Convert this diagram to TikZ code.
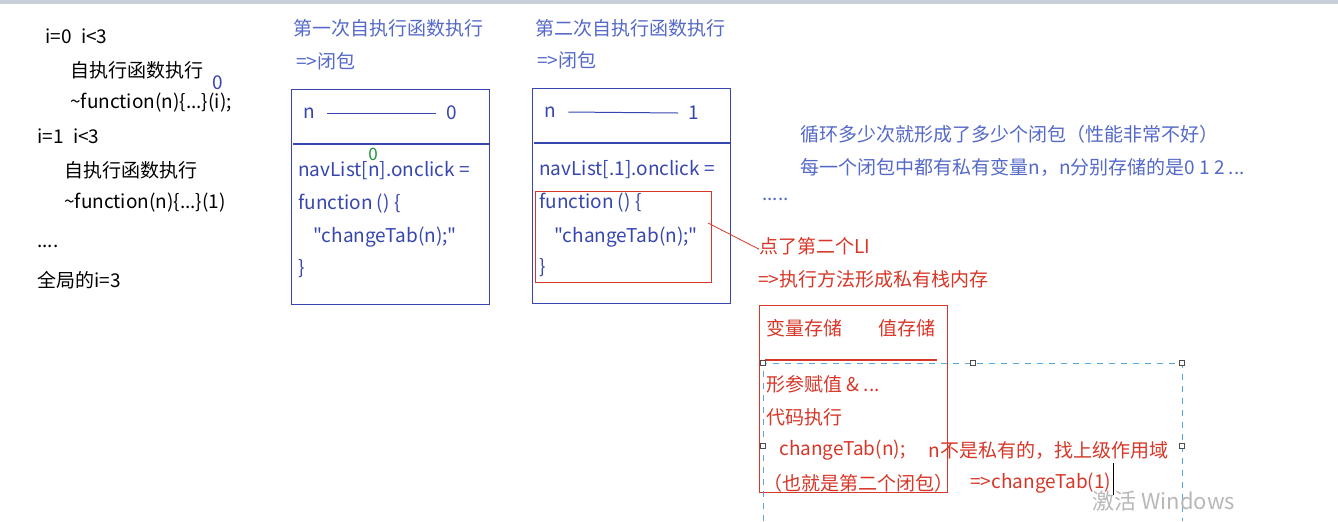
\documentclass[tikz,border=0pt]{standalone}
\usepackage{fontspec}
\setmainfont{Noto Sans CJK SC}[Ligatures=TeXOff]
\definecolor{inkblue}{RGB}{55,70,175}
\definecolor{titleblue}{RGB}{85,105,200}
\definecolor{inkred}{RGB}{215,55,40}
\definecolor{selblue}{RGB}{90,165,220}
\definecolor{numgreen}{RGB}{30,150,60}
\definecolor{barbg}{RGB}{200,206,218}

\tikzset{
  txt/.style={anchor=west, inner sep=0pt, font=\fontsize{9.5}{11}\selectfont},
  bluetxt/.style={txt, text=inkblue},
  redtxt/.style={txt, text=inkred},
  closure/.style={draw=inkblue, line width=0.6pt, anchor=north west, inner sep=0pt},
  redframe/.style={draw=inkred, line width=0.6pt, anchor=north west, inner sep=0pt},
  handle/.style={draw=black!70, fill=white, line width=0.3pt, minimum size=2.5pt, inner sep=0pt}
}

\begin{document}
\begin{tikzpicture}[x=0.5pt, y=-0.5pt]
    \useasboundingbox[fill=white] (0,0) rectangle (1338,521);
    \fill[barbg] (0,0) rectangle (1338,4);

    % left column: the loop
    \node[txt] (i0) at (45,36) {i=0\enspace i<3};
    \node[txt] (run0) at (70,70) {自执行函数执行};
    \node[txt, text=inkblue] (arg0) at (212,83) {0};
    \node[txt] (call0) at (70,103) {\textasciitilde function(n)\{...\}(i);};
    \node[txt] (i1) at (37,136) {i=1\enspace i<3};
    \node[txt] (run1) at (64,170) {自执行函数执行};
    \node[txt] (call1) at (64,203) {\textasciitilde function(n)\{...\}(1)};
    \node[txt] (dots0) at (37,246) {....};
    \node[txt] (glob) at (37,280) {全局的i=3};

    % first closure
    \node[txt, text=titleblue] (title1) at (293,28) {第一次自执行函数执行};
    \node[txt, text=titleblue] (arrow1) at (296,61) {=>闭包};
    \node[closure, minimum width=99pt, minimum height=107.5pt] (box1) at (291,89) {};
    \draw[inkblue, line width=0.6pt] (293,144) -- (box1.east |- 0,144);
    \node[bluetxt] (n1) at (303,113) {n};
    \node[bluetxt] (v1) at (446,113) {0};
    \draw[inkblue, line width=0.5pt] ([xshift=6pt]n1.east) -- ([xshift=-5pt]v1.west);
    \node[txt, text=numgreen, font=\fontsize{8.5}{10}\selectfont] (idx1) at (368,154) {0};
    \node[bluetxt] (nav1) at (298,171) {navList[n].onclick =};
    \node[bluetxt] (fn1) at (298,204) {function () \{};
    \node[bluetxt] (body1) at (313,237) {"changeTab(n);"};
    \node[bluetxt] (end1) at (298,269) {\}};

    % second closure
    \node[txt, text=titleblue] (title2) at (535,28) {第二次自执行函数执行};
    \node[txt, text=titleblue] (arrow2) at (537,60) {=>闭包};
    \node[closure, minimum width=99pt, minimum height=107.5pt] (box2) at (532,88) {};
    \draw[inkblue, line width=0.6pt] (534,143) -- (box2.east |- 0,143);
    \node[bluetxt] (n2) at (544,112) {n};
    \node[bluetxt] (v2) at (688,113) {1};
    \draw[inkblue, line width=0.5pt] ([xshift=6pt]n2.east) -- ([xshift=-5pt]v2.west);
    \node[bluetxt] (nav2) at (539,170) {navList[.1].onclick =};
    \node[redframe, minimum width=88pt, minimum height=45.5pt] (fnbox) at (535,191) {};
    \node[bluetxt] (fn2) at (539,203) {function () \{};
    \node[bluetxt] (body2) at (554,237) {"changeTab(n);"};
    \node[bluetxt] (end2) at (539,268) {\}};

    % notes
    \node[txt, text=titleblue] (note1) at (800,134) {循环多少次就形成了多少个闭包（性能非常不好）};
    \node[txt, text=titleblue] (note2) at (800,167) {每一个闭包中都有私有变量n，n分别存储的是0 1 2 ...};
    \node[txt, text=titleblue] (dots1) at (762,199) {.....};
    \node[redtxt] (click) at (759,246) {点了第二个LI};
    \node[redtxt] (stack) at (758,279) {=>执行方法形成私有栈内存};
    \draw[inkred, line width=0.4pt] ([xshift=-2pt, yshift=7pt]fnbox.east) -- ([yshift=3pt]click.south west);

    % private stack memory
    \node[redframe, minimum width=94pt, minimum height=93.5pt] (stackbox) at (759,305) {};
    \node[redtxt] (varcol) at (766,328) {变量存储};
    \node[redtxt] (valcol) at (878,328) {值存储};
    \draw[inkred, line width=0.6pt] (765,360) -- (937,360);
    \node[redtxt] (param) at (766,384) {形参赋值 \& ...};
    \node[redtxt] (exec) at (766,417) {代码执行};
    \node[redtxt] (calln) at (779,450) {changeTab(n);};
    \node[redtxt] (scope) at (928,450) {n不是私有的，找上级作用域};
    \node[redtxt] (second) at (763,483) {（也就是第二个闭包）};
    \node[redtxt] (result) at (970,483) {=>changeTab(1)};
    \draw[black, line width=0.5pt] ([xshift=1pt]result.east |- 0,463) -- ([xshift=1pt]result.east |- 0,495);

    % selection frame
    \draw[selblue, dashed, line width=0.5pt] (763,521) -- (763,363) -- (1182,363) -- (1182,521);
    \foreach \hx/\hy in {763/363, 973/363, 1182/363, 763/446, 1182/446}
        \node[handle] at (\hx,\hy) {};

    \node[txt, text=black!28, font=\fontsize{11}{13}\selectfont] (winmark) at (1092,501) {激活 Windows};
\end{tikzpicture}
\end{document}
